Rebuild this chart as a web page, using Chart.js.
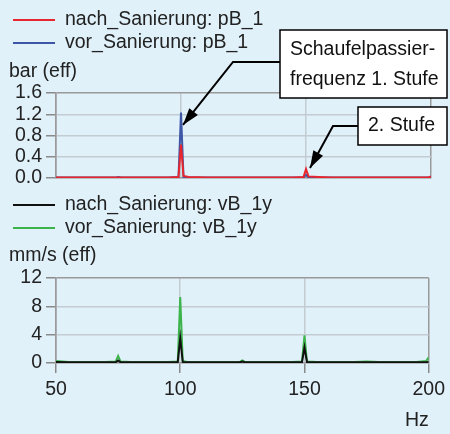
<!DOCTYPE html>
<html>
<head>
<meta charset="utf-8">
<script src="https://cdn.jsdelivr.net/npm/chart.js@4"></script>
<style>
  html, body { margin: 0; padding: 0; background: #e0f1fa; }
  #wrap { position: relative; width: 450px; height: 434px; }
  .panel { position: absolute; left: 0; width: 450px; }
</style>
</head>
<body>
<div id="wrap">
  <div class="panel" style="top:0;height:195px"><canvas id="pressureChart"></canvas></div>
  <div class="panel" style="top:195px;height:239px"><canvas id="velocityChart"></canvas></div>
</div>
<script>
// Spectrum data
const freqHz = [50, 55, 60, 65, 70, 74, 75, 76, 80, 85, 90, 95, 99, 100, 101, 102, 103, 110, 115, 120,
  124, 125, 126, 130, 135, 140, 145, 149, 150, 151, 155, 160, 165, 170, 175, 180, 185, 190, 195, 199, 200];

const nachPB = [0.01, 0.01, 0.01, 0.01, 0.01, 0.01, 0.01, 0.01, 0.01, 0.01, 0.01, 0.01, 0.02, 0.63, 0.04, 0.03, 0.02, 0.01, 0.01, 0.01,
  0.01, 0.01, 0.01, 0.01, 0.01, 0.01, 0.01, 0.02, 0.17, 0.03, 0.02, 0.01, 0.01, 0.01, 0.01, 0.01, 0.01, 0.01, 0.01, 0.01, 0.03];
const vorPB = [0.01, 0.01, 0.01, 0.01, 0.01, 0.01, 0.02, 0.01, 0.01, 0.01, 0.01, 0.01, 0.02, 1.23, 0.02, 0.01, 0.01, 0.01, 0.01, 0.01,
  0.01, 0.01, 0.01, 0.01, 0.01, 0.01, 0.01, 0.01, 0.06, 0.01, 0.01, 0.01, 0.01, 0.01, 0.01, 0.01, 0.01, 0.01, 0.01, 0.01, 0.02];

const nachVB = [0.15, 0.1, 0.1, 0.1, 0.1, 0.1, 0.35, 0.1, 0.1, 0.1, 0.1, 0.1, 0.15, 3.5, 0.15, 0.1, 0.1, 0.1, 0.1, 0.1,
  0.1, 0.2, 0.1, 0.1, 0.1, 0.1, 0.1, 0.15, 2.2, 0.15, 0.1, 0.1, 0.1, 0.1, 0.1, 0.1, 0.1, 0.1, 0.1, 0.1, 0.15];
const vorVB = [0.3, 0.15, 0.15, 0.15, 0.15, 0.2, 1.0, 0.2, 0.15, 0.15, 0.15, 0.15, 0.2, 9.3, 0.3, 0.2, 0.15, 0.15, 0.15, 0.15,
  0.15, 0.35, 0.15, 0.15, 0.15, 0.15, 0.15, 0.2, 3.9, 0.2, 0.15, 0.15, 0.15, 0.15, 0.2, 0.15, 0.15, 0.15, 0.15, 0.3, 0.8];

const pressureTicks = [0, 0.4, 0.8, 1.2, 1.6];
const velocityTicks = [0, 4, 8, 12];
const freqTicks = [50, 100, 150, 200];

const FONT = '19.5px "Liberation Sans", Arial, sans-serif';
const TEXT = '#222';
const GRID = '#c3ccd1';
const FRAME = '#9a9a9a';

const toXY = vals => vals.map((v, i) => ({ x: freqHz[i], y: v }));

// legend, unit labels, callouts
const extras = {
  id: 'extras',
  afterDraw(chart, args, o) {
    const ctx = chart.ctx;
    ctx.save();
    ctx.font = FONT;
    ctx.textBaseline = 'middle';
    ctx.textAlign = 'left';
    chart.data.datasets.forEach((ds, i) => {
      const y = o.legendY[i];
      ctx.strokeStyle = ds.borderColor;
      ctx.lineWidth = 2;
      ctx.beginPath(); ctx.moveTo(13, y); ctx.lineTo(55, y); ctx.stroke();
      ctx.fillStyle = TEXT;
      ctx.fillText(ds.label, 65, y);
    });
    ctx.fillText(o.unit, 9, o.unitY);
    if (o.hz) ctx.fillText('Hz', o.hz[0], o.hz[1]);

    (o.notes || []).forEach(n => {
      const [bx, by, bw, bh] = n.box;
      ctx.fillStyle = '#fff';
      ctx.fillRect(bx, by, bw, bh);
      ctx.strokeStyle = '#000';
      ctx.lineWidth = 1.5;
      ctx.strokeRect(bx, by, bw, bh);
      ctx.fillStyle = '#111';
      n.lines.forEach((t, k) => ctx.fillText(t, bx + 10, n.textY[k]));
      const tx = chart.scales.x.getPixelForValue(n.tip[0]);
      const ty = chart.scales.y.getPixelForValue(n.tip[1]);
      const [ex, ey] = n.elbow;
      ctx.lineWidth = 2;
      ctx.beginPath();
      ctx.moveTo(bx, ey); ctx.lineTo(ex, ey); ctx.lineTo(tx, ty);
      ctx.stroke();
      const a = Math.atan2(ty - ey, tx - ex);
      const L = 17, W = 5.5;
      ctx.beginPath();
      ctx.moveTo(tx, ty);
      ctx.lineTo(tx - L * Math.cos(a) + W * Math.sin(a), ty - L * Math.sin(a) - W * Math.cos(a));
      ctx.lineTo(tx - L * Math.cos(a) - W * Math.sin(a), ty - L * Math.sin(a) + W * Math.cos(a));
      ctx.closePath();
      ctx.fillStyle = '#000';
      ctx.fill();
    });
    ctx.restore();
  }
};

function makeChart(id, sets, yTicks, showX, padding, xHeight, extraOpts) {
  const yMax = yTicks[yTicks.length - 1];
  return new Chart(document.getElementById(id), {
    type: 'line',
    data: {
      datasets: sets.map(s => ({
        label: s.label, data: toXY(s.values), borderColor: s.color,
        borderWidth: 2, pointRadius: 0, tension: 0
      }))
    },
    options: {
      responsive: true,
      maintainAspectRatio: false,
      animation: false,
      layout: { padding },
      plugins: { legend: { display: false }, tooltip: { enabled: false }, extras: extraOpts },
      scales: {
        x: {
          type: 'linear', min: freqTicks[0], max: freqTicks[freqTicks.length - 1],
          afterBuildTicks: s => { s.ticks = freqTicks.map(v => ({ value: v })); },
          afterFit: s => { s.height = xHeight; },
          ticks: { display: showX, autoSkip: false, font: { family: '"Liberation Sans", Arial', size: 19.5 }, color: TEXT, padding: 5, maxRotation: 0 },
          grid: {
            color: c => (c.tick && (c.tick.value === 50 || c.tick.value === 200)) ? FRAME : GRID,
            lineWidth: 1.5, drawTicks: showX, tickLength: 10, tickColor: '#8a8a8a'
          },
          border: { color: FRAME, width: 1.5 }
        },
        y: {
          min: 0, max: yMax,
          afterBuildTicks: s => { s.ticks = yTicks.map(v => ({ value: v })); },
          afterFit: s => { s.width = 56; },
          ticks: {
            autoSkip: false,
            font: { family: '"Liberation Sans", Arial', size: 19.5 }, color: TEXT, padding: 4,
            callback: v => yMax < 2 ? v.toFixed(1) : String(v)
          },
          grid: {
            color: c => (c.tick && c.tick.value === yMax) ? FRAME : GRID,
            lineWidth: 1.5, tickLength: 10, tickColor: '#8a8a8a'
          },
          border: { color: FRAME, width: 1.5 }
        }
      }
    },
    plugins: [extras]
  });
}

makeChart('pressureChart', [
  { label: 'nach_Sanierung: pB_1', values: nachPB, color: '#e8262e' },
  { label: 'vor_Sanierung: pB_1', values: vorPB, color: '#3d56a6' }
], pressureTicks, false, { top: 93, right: 19, bottom: 17, left: 0 }, 0, {
  legendY: [20, 43], unit: 'bar (eff)', unitY: 72,
  notes: [
    { lines: ['Schaufelpassier-', 'frequenz 1. Stufe'], textY: [50, 80], box: [280, 30, 167, 68], elbow: [233, 62], tip: [100.8, 1.0] },
    { lines: ['2. Stufe'], textY: [126], box: [358, 107, 89, 38], elbow: [333, 126], tip: [151.6, 0.19] }
  ]
});

makeChart('velocityChart', [
  { label: 'nach_Sanierung: vB_1y', values: nachVB, color: '#111111' },
  { label: 'vor_Sanierung: vB_1y', values: vorVB, color: '#3cb44b' }
], velocityTicks, true, { top: 83, right: 19, bottom: 0, left: 0 }, 71, {
  legendY: [10, 33], unit: 'mm/s (eff)', unitY: 61, hz: [405, 226]
});
</script>
</body>
</html>
